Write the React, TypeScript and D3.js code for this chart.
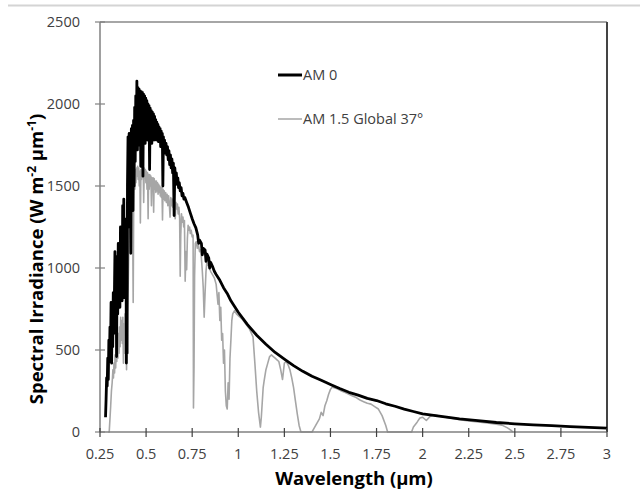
import * as d3 from "d3";

// wavelength (µm), spectral irradiance (W m-2 µm-1)
const am0: [number, number][] = [
  [0.28, 90], [0.283, 200], [0.286, 330], [0.289, 280], [0.292, 450], [0.295, 320],
  [0.298, 560], [0.301, 430], [0.304, 640], [0.307, 480], [0.31, 790], [0.313, 420],
  [0.316, 760], [0.319, 520], [0.322, 850], [0.325, 600], [0.328, 820], [0.331, 1100],
  [0.334, 620], [0.337, 1050], [0.34, 460], [0.343, 1070], [0.346, 720], [0.349, 1150],
  [0.352, 780], [0.355, 1120], [0.358, 760], [0.361, 1250], [0.364, 850], [0.367, 1200],
  [0.37, 800], [0.373, 1380], [0.376, 900], [0.379, 1420], [0.382, 820], [0.385, 1300],
  [0.388, 900], [0.391, 1250], [0.393, 420], [0.395, 1200], [0.397, 480], [0.399, 1500],
  [0.402, 1800], [0.405, 1250], [0.408, 1820], [0.411, 1350], [0.414, 1800], [0.417, 1090],
  [0.42, 1850], [0.423, 1400], [0.426, 1870], [0.429, 1350], [0.432, 1900], [0.435, 1500],
  [0.438, 1980], [0.441, 1650], [0.444, 2050], [0.447, 1760], [0.45, 2140], [0.453, 1720],
  [0.456, 2100], [0.459, 1820], [0.462, 2090], [0.465, 1750], [0.468, 2080], [0.471, 1620],
  [0.474, 2075], [0.477, 1800], [0.48, 2070], [0.483, 1560], [0.486, 2060], [0.489, 1790],
  [0.492, 2050], [0.495, 1760], [0.498, 2035], [0.501, 1820], [0.504, 2020], [0.507, 1780],
  [0.51, 2000], [0.513, 1820], [0.516, 1990], [0.519, 1600], [0.522, 1975], [0.525, 1790],
  [0.528, 1960], [0.531, 1760], [0.534, 1950], [0.537, 1800], [0.54, 1940], [0.543, 1780],
  [0.546, 1925], [0.549, 1800], [0.552, 1905], [0.555, 1780], [0.558, 1890], [0.561, 1790],
  [0.564, 1875], [0.567, 1770], [0.57, 1860], [0.573, 1780], [0.576, 1850], [0.579, 1740],
  [0.582, 1835], [0.585, 1760], [0.588, 1820], [0.591, 1500], [0.594, 1800], [0.597, 1720],
  [0.6, 1780], [0.604, 1700], [0.608, 1760], [0.612, 1690], [0.616, 1740], [0.62, 1660],
  [0.624, 1715], [0.628, 1630], [0.632, 1690], [0.636, 1610], [0.64, 1665], [0.644, 1580],
  [0.648, 1640], [0.652, 1320], [0.656, 1610], [0.66, 1530], [0.664, 1580], [0.668, 1510],
  [0.672, 1550], [0.676, 1490], [0.68, 1520], [0.685, 1470], [0.69, 1490], [0.695, 1440],
  [0.7, 1455], [0.705, 1420], [0.71, 1430], [0.72, 1400], [0.73, 1370], [0.74, 1335],
  [0.75, 1300], [0.76, 1270], [0.77, 1245], [0.78, 1200], [0.785, 1150], [0.79, 1170],
  [0.8, 1150], [0.805, 1080], [0.81, 1120], [0.82, 1110], [0.825, 1040], [0.83, 1085],
  [0.84, 1060], [0.845, 1000], [0.85, 1035], [0.86, 1010], [0.87, 980], [0.88, 960],
  [0.9, 925], [0.92, 880], [0.94, 845], [0.96, 800], [0.98, 765], [1.0, 730],
  [1.05, 655], [1.1, 590], [1.15, 535], [1.2, 485], [1.25, 445], [1.3, 405],
  [1.35, 370], [1.4, 340], [1.45, 315], [1.5, 290], [1.55, 265], [1.6, 242],
  [1.65, 225], [1.7, 205], [1.75, 192], [1.8, 172], [1.85, 157], [1.9, 140],
  [1.95, 125], [2.0, 110], [2.1, 95], [2.2, 80], [2.3, 69], [2.4, 58],
  [2.5, 50], [2.6, 44], [2.7, 39], [2.8, 33], [2.9, 28], [3.0, 24],
];

const am15g: [number, number][] = [
  [0.295, 0], [0.3, 0], [0.304, 80], [0.308, 160], [0.312, 250], [0.316, 300],
  [0.32, 380], [0.323, 330], [0.326, 420], [0.329, 360], [0.332, 470], [0.335, 390],
  [0.338, 520], [0.341, 430], [0.344, 560], [0.347, 450], [0.35, 600], [0.353, 480],
  [0.356, 640], [0.359, 520], [0.362, 700], [0.365, 560], [0.368, 680], [0.371, 540],
  [0.374, 700], [0.377, 420], [0.38, 660], [0.383, 480], [0.386, 720], [0.389, 560],
  [0.392, 640], [0.394, 380], [0.397, 700], [0.4, 820], [0.403, 900], [0.406, 1100],
  [0.409, 1250], [0.412, 1400], [0.415, 1520], [0.418, 1560], [0.421, 1450], [0.424, 1540],
  [0.427, 1300], [0.43, 790], [0.433, 1450], [0.436, 1560], [0.439, 1480], [0.442, 1600],
  [0.445, 1520], [0.448, 1610], [0.451, 1560], [0.454, 1620], [0.457, 1540], [0.46, 1610],
  [0.463, 1500], [0.466, 1590], [0.469, 1274], [0.472, 1600], [0.475, 1540], [0.478, 1640],
  [0.481, 1560], [0.484, 1620], [0.487, 1400], [0.49, 1610], [0.493, 1550], [0.496, 1600],
  [0.499, 1520], [0.502, 1590], [0.505, 1480], [0.508, 1580], [0.511, 1300], [0.514, 1570],
  [0.517, 1480], [0.52, 1570], [0.523, 1500], [0.526, 1560], [0.529, 1380], [0.532, 1550],
  [0.535, 1490], [0.538, 1550], [0.541, 1340], [0.544, 1545], [0.547, 1480], [0.55, 1530],
  [0.553, 1460], [0.556, 1530], [0.559, 1470], [0.562, 1520], [0.565, 1450], [0.568, 1510],
  [0.571, 1460], [0.574, 1500], [0.577, 1440], [0.58, 1490], [0.583, 1430], [0.586, 1490],
  [0.589, 1293], [0.592, 1480], [0.595, 1420], [0.598, 1470], [0.602, 1410], [0.606, 1460],
  [0.61, 1400], [0.614, 1450], [0.618, 1380], [0.622, 1440], [0.626, 1390], [0.63, 1310],
  [0.634, 1430], [0.638, 1380], [0.642, 1420], [0.646, 1370], [0.65, 1410], [0.654, 1340],
  [0.658, 1300], [0.662, 1400], [0.666, 1360], [0.67, 1390], [0.674, 1330], [0.678, 1370],
  [0.682, 1300], [0.685, 950], [0.688, 1200], [0.692, 1330], [0.696, 1280], [0.7, 1310],
  [0.704, 1250], [0.708, 1290], [0.712, 920], [0.716, 1100], [0.72, 990], [0.724, 1180],
  [0.728, 1260], [0.732, 1230], [0.736, 1250], [0.74, 1210], [0.745, 1230], [0.75, 1190],
  [0.755, 1200], [0.757, 146], [0.76, 400], [0.763, 950], [0.767, 1150], [0.772, 1160],
  [0.778, 1120], [0.784, 1140], [0.79, 1100], [0.796, 1110], [0.8, 1060], [0.805, 980],
  [0.81, 880], [0.815, 700], [0.82, 850], [0.825, 980], [0.83, 1040], [0.84, 1010],
  [0.85, 980], [0.86, 960], [0.87, 940], [0.88, 900], [0.89, 780], [0.895, 850],
  [0.9, 680], [0.905, 760], [0.91, 560], [0.915, 600], [0.92, 420], [0.925, 500],
  [0.93, 250], [0.935, 160], [0.94, 140], [0.945, 300], [0.95, 200], [0.955, 450],
  [0.96, 560], [0.965, 680], [0.97, 720], [0.98, 740], [0.99, 720], [1.0, 710],
  [1.02, 690], [1.04, 660], [1.06, 630], [1.08, 580], [1.09, 420], [1.1, 250],
  [1.11, 120], [1.12, 30], [1.125, 90], [1.13, 180], [1.135, 270], [1.14, 310],
  [1.15, 380], [1.16, 420], [1.17, 460], [1.18, 470], [1.19, 460], [1.2, 450],
  [1.21, 440], [1.22, 430], [1.23, 380], [1.24, 320], [1.25, 420], [1.26, 430],
  [1.27, 410], [1.28, 380], [1.29, 330], [1.3, 270], [1.31, 190], [1.32, 110],
  [1.33, 40], [1.34, 0], [1.4, 0], [1.41, 20], [1.42, 40], [1.43, 60],
  [1.44, 80], [1.45, 120], [1.46, 100], [1.47, 160], [1.48, 190], [1.49, 230],
  [1.5, 260], [1.51, 275], [1.52, 270], [1.54, 262], [1.56, 250], [1.58, 240],
  [1.6, 230], [1.62, 220], [1.64, 210], [1.66, 195], [1.68, 185], [1.7, 175],
  [1.72, 170], [1.74, 155], [1.76, 140], [1.78, 100], [1.8, 40], [1.81, 0],
  [1.94, 0], [1.95, 30], [1.97, 60], [1.985, 85], [2.0, 90], [2.02, 70],
  [2.04, 95], [2.06, 105], [2.08, 100], [2.1, 95], [2.15, 85], [2.2, 75],
  [2.25, 68], [2.3, 62], [2.35, 55], [2.4, 48], [2.43, 42], [2.46, 25],
  [2.48, 10], [2.49, 0],
];

const xTickValues = [0.25, 0.5, 0.75, 1, 1.25, 1.5, 1.75, 2, 2.25, 2.5, 2.75, 3];
const xTickLabels = ["0.25", "0.5", "0.75", "1", "1.25", "1.5", "1.75", "2", "2.25", "2.5", "2.75", "3"];
const yTickValues = [0, 500, 1000, 1500, 2000, 2500];
const seriesNames = ["AM 0", "AM 1.5 Global 37°"];

const left = 100;
const right = 607;
const top = 22;
const bottom = 432;
const font = "'Open Sans', sans-serif";

export default function App() {
  const x = d3.scaleLinear().domain([0.25, 3]).range([left, right]);
  const y = d3.scaleLinear().domain([0, 2500]).range([bottom, top]);
  const line = d3.line<[number, number]>()
    .x((d) => x(d[0]))
    .y((d) => y(d[1]));

  return (
    <svg width={640} height={492} style={{ position: "absolute", left: 0, top: 0, background: "white" }}>
      <line x1={8} x2={640} y1={5.5} y2={5.5} stroke="#d4d4d4" strokeWidth={2} />

      {/* frame */}
      <line x1={left} x2={right} y1={top} y2={top} stroke="#888" strokeWidth={1.5} />
      <line x1={right} x2={right} y1={top} y2={bottom} stroke="#444" strokeWidth={2} />

      <path d={line(am15g) ?? ""} fill="none" stroke="#a6a6a6" strokeWidth={1.6} strokeLinejoin="round" />
      <path d={line(am0) ?? ""} fill="none" stroke="#000" strokeWidth={2.8} strokeLinejoin="round" />

      {/* axes */}
      <line x1={left} x2={left} y1={top} y2={bottom} stroke="#808080" strokeWidth={1.5} />
      <line x1={left} x2={right} y1={bottom} y2={bottom} stroke="#808080" strokeWidth={1.5} />
      {yTickValues.map((v) => (
        <g key={v}>
          <line x1={left - 5} x2={left + 5} y1={y(v)} y2={y(v)} stroke="#808080" strokeWidth={1.2} />
          <text x={80} y={y(v) + 5} textAnchor="end" fontFamily={font} fontSize={14.5} fill="#404040">
            {v}
          </text>
        </g>
      ))}
      {xTickValues.map((v, i) => (
        <g key={v}>
          <line x1={x(v)} x2={x(v)} y1={bottom - 4} y2={bottom + 5} stroke="#404040" strokeWidth={1.2} />
          <text x={x(v)} y={459} textAnchor="middle" fontFamily={font} fontSize={14.5} fill="#404040">
            {xTickLabels[i]}
          </text>
        </g>
      ))}

      <text x={354} y={485} textAnchor="middle" fontFamily={font} fontSize={18.5} fontWeight="bold">
        Wavelength (µm)
      </text>
      <text transform="translate(43,259) rotate(-90)" textAnchor="middle" fontFamily={font} fontSize={18.5} fontWeight="bold">
        Spectral Irradiance (W m
        <tspan fontSize={12} dy={-7}>-2</tspan>
        <tspan dy={7}> µm</tspan>
        <tspan fontSize={12} dy={-7}>-1</tspan>
        <tspan dy={7}>)</tspan>
      </text>

      {/* legend */}
      <line x1={278} x2={302} y1={75} y2={75} stroke="#000" strokeWidth={3} />
      <text x={303} y={80} fontFamily={font} fontSize={14.5} fill="#404040">{seriesNames[0]}</text>
      <line x1={278} x2={302} y1={119} y2={119} stroke="#a6a6a6" strokeWidth={1.5} />
      <text x={303} y={124} fontFamily={font} fontSize={14.5} fill="#404040">{seriesNames[1]}</text>
    </svg>
  );
}
